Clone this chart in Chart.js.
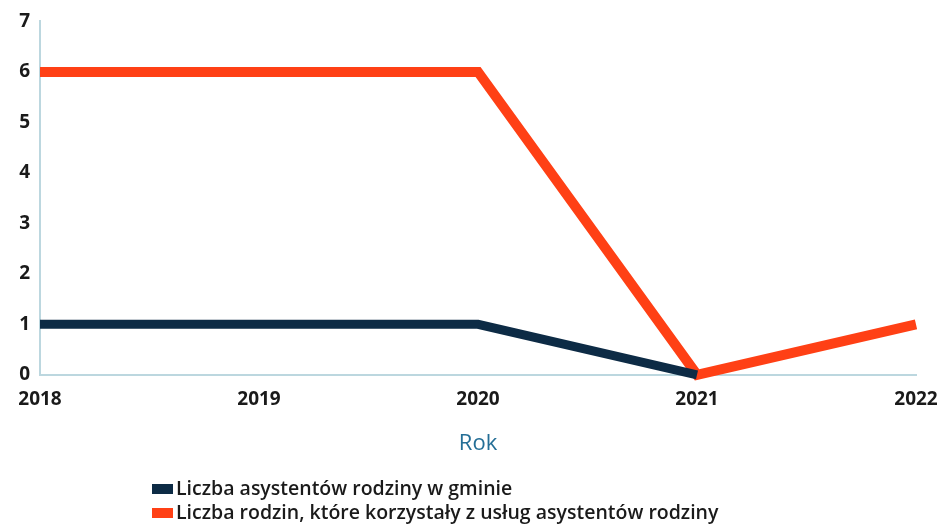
<!DOCTYPE html>
<html>
<head>
<meta charset="utf-8">
<script src="https://cdn.jsdelivr.net/npm/chart.js@4.4.1/dist/chart.umd.min.js"></script>
<style>
  html, body { margin: 0; padding: 0; background: #ffffff; }
  #wrap { position: relative; width: 942px; height: 525px; }
</style>
</head>
<body>
<div id="wrap"><canvas id="c" width="942" height="525"></canvas></div>
<script>
const years = ['2018', '2019', '2020', '2021', '2022'];
const assistants = [1, 1, 1, 0, null];
const families = [6, 6, 6, 0, 1];
const seriesLabels = ['Liczba asystentów rodziny w gminie', 'Liczba rodzin, które korzystały z usług asystentów rodziny'];
const seriesColors = ['#0d2b45', '#ff4015'];
const xTitle = 'Rok';

const bottomLegend = {
  id: 'bottomLegend',
  afterDraw(chart) {
    const ctx = chart.ctx;
    ctx.save();
    ctx.font = '600 19.5px "Open Sans", sans-serif';
    ctx.textBaseline = 'middle';
    chart.data.datasets.forEach((ds, i) => {
      const y = 489 + i * 24;
      ctx.fillStyle = ds.borderColor;
      ctx.fillRect(152, y - 5, 21, 10);
      ctx.fillStyle = '#1a1a1a';
      ctx.fillText(ds.label, 176, y);
    });
    ctx.restore();
  }
};

new Chart(document.getElementById('c'), {
  type: 'line',
  data: {
    labels: years,
    datasets: [
      { label: seriesLabels[0], data: assistants, borderColor: seriesColors[0], backgroundColor: seriesColors[0], borderWidth: 9, pointRadius: 0, tension: 0, borderJoinStyle: 'miter', borderCapStyle: 'butt' },
      { label: seriesLabels[1], data: families, borderColor: seriesColors[1], backgroundColor: seriesColors[1], borderWidth: 10, pointRadius: 0, tension: 0, borderJoinStyle: 'miter', borderCapStyle: 'butt' }
    ]
  },
  options: {
    responsive: false,
    animation: false,
    clip: false,
    layout: { padding: { left: 0, right: 26, top: 20, bottom: 68 } },
    plugins: { legend: { display: false }, tooltip: { enabled: false } },
    scales: {
      x: {
        offset: false,
        grid: { display: false, drawTicks: false },
        border: { display: true, color: '#bcd7df', width: 2 },
        ticks: { color: '#1a1a1a', font: { family: '"Open Sans", sans-serif', size: 19, weight: '700' }, padding: 13, maxRotation: 0, autoSkip: false },
        title: { display: true, text: xTitle, color: '#246e96', font: { family: '"Open Sans", sans-serif', size: 22, weight: '400' }, padding: { top: 7, bottom: 0 } },
        afterFit(s) { s.paddingRight = 0; s.paddingLeft = 0; }
      },
      y: {
        min: 0, max: 7,
        grid: { display: false, drawTicks: false },
        border: { display: true, color: '#bcd7df', width: 2 },
        ticks: { stepSize: 1, color: '#1a1a1a', font: { family: '"Open Sans", sans-serif', size: 19, weight: '700' }, padding: 10 },
        afterFit(s) { s.width = 40; }
      }
    }
  },
  plugins: [bottomLegend]
});
</script>
</body>
</html>
